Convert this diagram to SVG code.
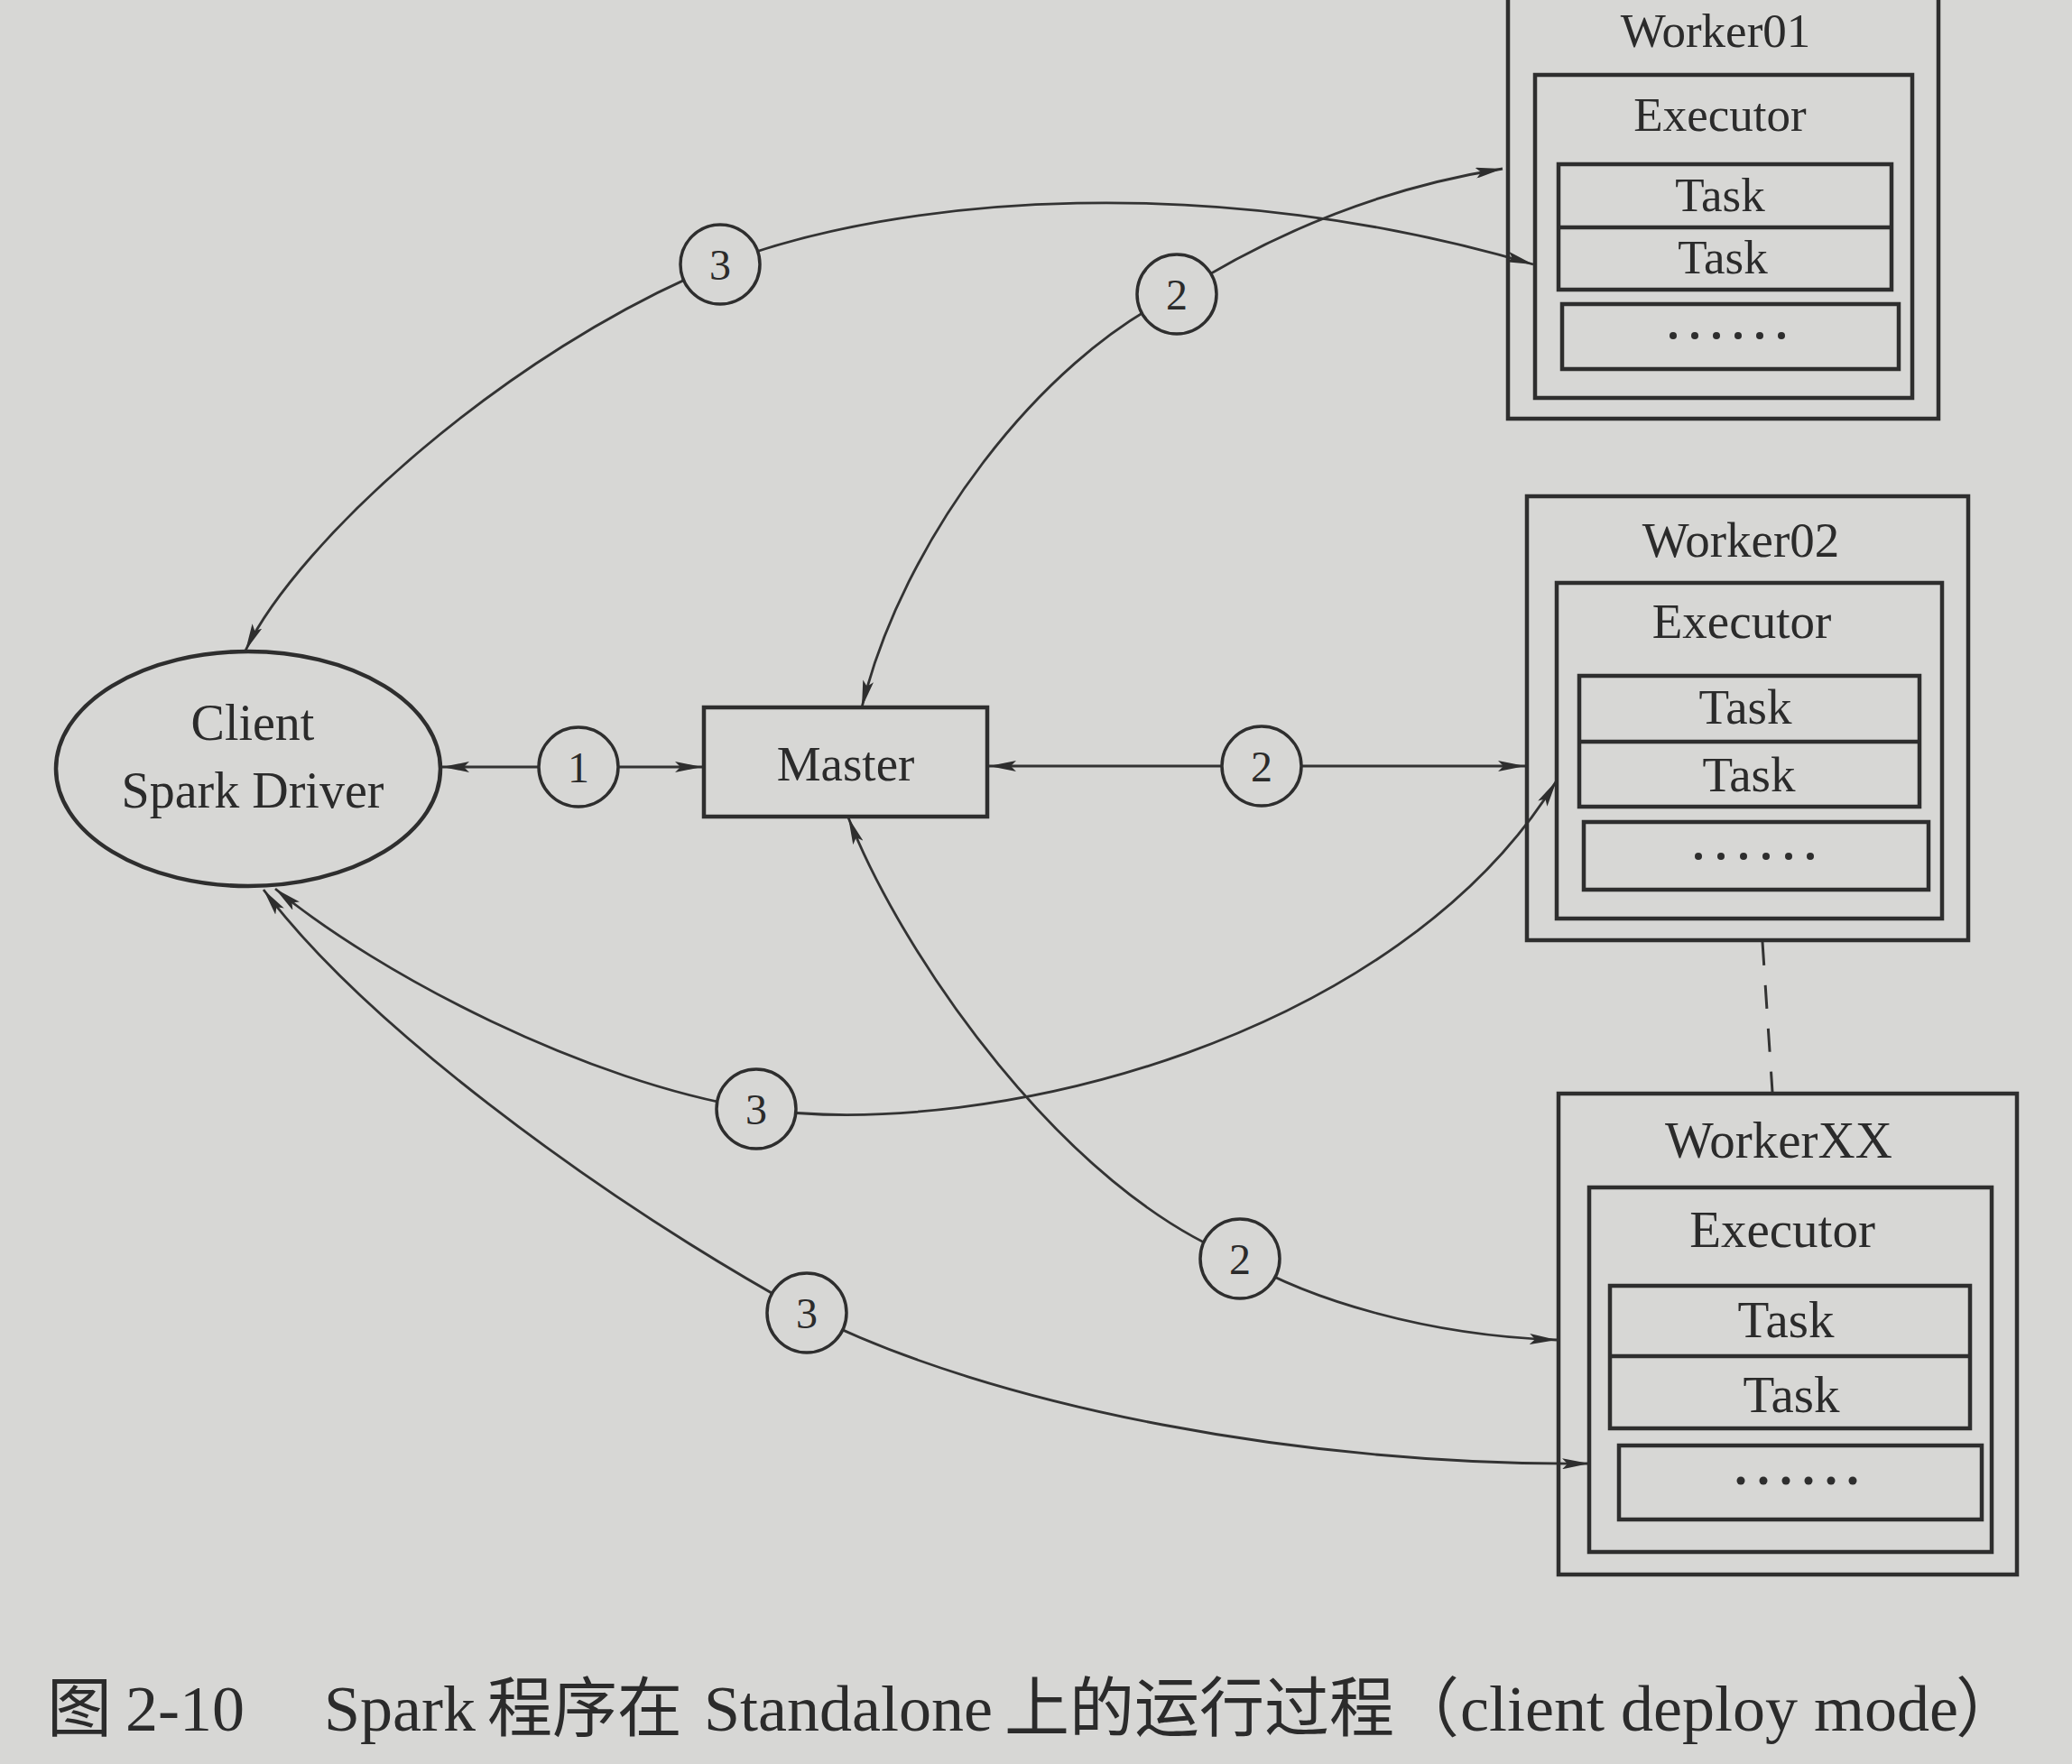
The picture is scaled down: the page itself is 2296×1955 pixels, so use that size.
<svg xmlns="http://www.w3.org/2000/svg" width="2296" height="1955" viewBox="0 0 2296 1955">
<defs>
<style>
.bg{fill:#d7d7d5}
.box{fill:none;stroke:#2e2e2e;stroke-width:4.5}
.conn{fill:none;stroke:#333333;stroke-width:2.8;marker-start:url(#ah);marker-end:url(#ah)}
.dash{fill:none;stroke:#333333;stroke-width:3;stroke-dasharray:26 22}
.num{fill:#d7d7d5;stroke:#2e2e2e;stroke-width:3.5}
.lbl{font-family:"Liberation Serif","Noto Sans CJK SC",serif;fill:#2b2b2b;text-anchor:middle}
.numt{font-family:"Liberation Serif",serif;fill:#2b2b2b;text-anchor:middle;font-size:48px}
.dot{fill:#2e2e2e}
.cap{font-family:"Liberation Serif","Noto Sans CJK SC",serif;fill:#2b2b2b;font-size:72px}
</style>
<marker id="ah" viewBox="0 0 30 12" refX="30" refY="6" markerWidth="30" markerHeight="12" markerUnits="userSpaceOnUse" orient="auto-start-reverse">
<path d="M0,0 L30,6 L0,12 L6,6 z" fill="#2e2e2e"/>
</marker>
</defs>
<rect class="bg" x="0" y="0" width="2296" height="1955"/>

<g id="connectors">
<path class="conn" d="M 272 721 C 330 600, 560 390, 798 293 C 1000 215, 1350 190, 1699 293"/>
<path class="conn" d="M 955 784 C 1000 600, 1150 400, 1304 326 C 1400 265, 1520 210, 1665 187"/>
<path class="conn" d="M 490 850 L 778 850"/>
<path class="conn" d="M 1096 849 L 1690 849"/>
<path class="conn" d="M 305 985 C 420 1080, 650 1200, 838 1229 C 1100 1265, 1550 1150, 1725 865"/>
<path class="conn" d="M 940 906 C 1000 1060, 1180 1320, 1374 1395 C 1450 1440, 1580 1480, 1725 1485"/>
<path class="conn" d="M 292 986 C 400 1130, 650 1320, 894 1455 C 1100 1560, 1450 1625, 1761 1622"/>
<path class="dash" d="M 1953 1044 L 1964 1210"/>
<g id="step-labels">
<circle class="num" cx="641" cy="850" r="44"/><text class="numt" x="641" y="867">1</text>
<circle class="num" cx="1398" cy="849" r="44"/><text class="numt" x="1398" y="866">2</text>
<circle class="num" cx="1304" cy="326" r="44"/><text class="numt" x="1304" y="343">2</text>
<circle class="num" cx="798" cy="293" r="44"/><text class="numt" x="798" y="310">3</text>
<circle class="num" cx="838" cy="1229" r="44"/><text class="numt" x="838" y="1246">3</text>
<circle class="num" cx="1374" cy="1395" r="44"/><text class="numt" x="1374" y="1412">2</text>
<circle class="num" cx="894" cy="1455" r="44"/><text class="numt" x="894" y="1472">3</text>
</g>
</g>

<g id="client">
<ellipse class="box" cx="275" cy="852" rx="213" ry="130"/>
<text class="lbl" x="280" y="820" font-size="56">Client</text>
<text class="lbl" x="280" y="895" font-size="56">Spark Driver</text>
</g>

<g id="master">
<rect class="box" x="780" y="784" width="314" height="121"/>
<text class="lbl" x="937" y="865" font-size="55">Master</text>
</g>

<g id="worker01" font-size="53">
<rect class="box" x="1671" y="-10" width="477" height="474"/>
<text class="lbl" x="1901" y="52">Worker01</text>
<rect class="box" x="1701" y="83" width="418" height="358"/>
<text class="lbl" x="1906" y="145">Executor</text>
<rect class="box" x="1727" y="182" width="369" height="139"/>
<line class="box" x1="1727" y1="252" x2="2096" y2="252"/>
<text class="lbl" x="1906" y="234">Task</text>
<text class="lbl" x="1909" y="303">Task</text>
<rect class="box" x="1731" y="337" width="373" height="72"/>
<g class="dot"><circle cx="1854" cy="372" r="4"/><circle cx="1878" cy="372" r="4"/><circle cx="1902" cy="372" r="4"/><circle cx="1926" cy="372" r="4"/><circle cx="1950" cy="372" r="4"/><circle cx="1974" cy="372" r="4"/></g>
</g>

<g id="worker02" font-size="55">
<rect class="box" x="1692" y="550" width="489" height="492"/>
<text class="lbl" x="1929" y="617">Worker02</text>
<rect class="box" x="1725" y="646" width="427" height="372"/>
<text class="lbl" x="1930" y="707">Executor</text>
<rect class="box" x="1750" y="749" width="377" height="145"/>
<line class="box" x1="1750" y1="822" x2="2127" y2="822"/>
<text class="lbl" x="1934" y="802">Task</text>
<text class="lbl" x="1938" y="877">Task</text>
<rect class="box" x="1755" y="911" width="382" height="75"/>
<g class="dot"><circle cx="1882" cy="949" r="4"/><circle cx="1907" cy="949" r="4"/><circle cx="1932" cy="949" r="4"/><circle cx="1957" cy="949" r="4"/><circle cx="1982" cy="949" r="4"/><circle cx="2006" cy="949" r="4"/></g>
</g>

<g id="workerXX" font-size="57">
<rect class="box" x="1727" y="1212" width="508" height="533"/>
<text class="lbl" x="1971" y="1283">WorkerXX</text>
<rect class="box" x="1761" y="1316" width="446" height="404"/>
<text class="lbl" x="1975" y="1382">Executor</text>
<rect class="box" x="1784" y="1425" width="399" height="158"/>
<line class="box" x1="1784" y1="1503" x2="2183" y2="1503"/>
<text class="lbl" x="1979" y="1482">Task</text>
<text class="lbl" x="1985" y="1565">Task</text>
<rect class="box" x="1794" y="1602" width="402" height="82"/>
<g class="dot"><circle cx="1929" cy="1641" r="4.5"/><circle cx="1954" cy="1641" r="4.5"/><circle cx="1979" cy="1641" r="4.5"/><circle cx="2004" cy="1641" r="4.5"/><circle cx="2029" cy="1641" r="4.5"/><circle cx="2053" cy="1641" r="4.5"/></g>
</g>

<g id="caption">
<text class="cap" y="1918"><tspan x="52">图</tspan><tspan x="139">2-10</tspan><tspan x="359">Spark</tspan><tspan x="540">程序在</tspan><tspan x="780">Standalone</tspan><tspan x="1113">上的运行过程</tspan><tspan x="1545">（</tspan><tspan x="1618">client deploy mode</tspan><tspan x="2167">）</tspan></text>
</g>
</svg>
